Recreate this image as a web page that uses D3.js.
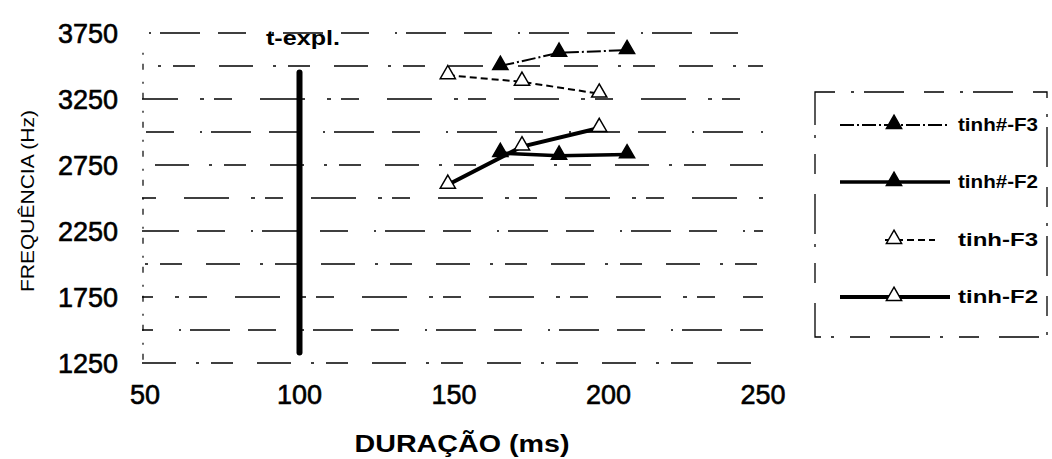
<!DOCTYPE html>
<html>
<head>
<meta charset="utf-8">
<script src="https://cdn.jsdelivr.net/npm/d3@7"></script>
<style>
  html, body { margin: 0; padding: 0; background: #fff; }
  svg { display: block; font-family: "Liberation Sans", Arial, sans-serif; }
</style>
</head>
<body>
<svg id="chart" width="1052" height="459"></svg>
<script>
// Axis ticks
const xTicks = [50, 100, 150, 200, 250];
const yTicks = [1250, 1750, 2250, 2750, 3250, 3750];
const yGrid = [1250, 1500, 1750, 2000, 2250, 2500, 2750, 3000, 3250, 3500, 3750];

// Series: duration (ms) and formant frequency (Hz)
const seriesNames = ["tinh#-F3", "tinh#-F2", "tinh-F3", "tinh-F2"];
const tinhSharpF3Dur = [165, 184, 206];
const tinhSharpF3Hz  = [3500, 3600, 3620];
const tinhSharpF2Dur = [165, 184, 206];
const tinhSharpF2Hz  = [2840, 2820, 2830];
const tinhF3Dur = [148, 172, 197];
const tinhF3Hz  = [3430, 3380, 3290];
const tinhF2Dur = [148, 172, 197];
const tinhF2Hz  = [2600, 2890, 3030];

// Reference line t-expl.
const texplDur = [100, 100];
const texplHz  = [1330, 3450];

const svg = d3.select("#chart");
const x = d3.scaleLinear().domain([50, 250]).range([145, 763]);
const y = d3.scaleLinear().domain([1250, 3750]).range([363, 33]);

const ink = "#000";

// Broken horizontal grid lines
svg.append("g").selectAll("line").data(yGrid).join("line")
  .attr("x1", x(50) - 3).attr("x2", x(250))
  .attr("y1", d => y(d)).attr("y2", d => y(d))
  .attr("stroke", ink).attr("stroke-width", 1.3)
  .attr("stroke-dasharray", (d, i) => ["34,20,3,12,22,24", "28,26,2,9,40,18", "45,22,4,10,18,28"][i % 3])
  .attr("stroke-dashoffset", (d, i) => i * 17);

// Left axis line (faint, broken)
svg.append("line")
  .attr("x1", x(50) - 2).attr("x2", x(50) - 2)
  .attr("y1", y(3600)).attr("y2", y(1250))
  .attr("stroke", ink).attr("stroke-width", 1.2)
  .attr("stroke-dasharray", "2,9,6,12");

// Tick labels
svg.append("g").selectAll("text").data(yTicks).join("text")
  .attr("x", 118).attr("y", d => y(d))
  .attr("dy", "0.36em").attr("text-anchor", "end")
  .attr("font-size", 27).attr("fill", ink)
  .attr("stroke", ink).attr("stroke-width", 0.6)
  .text(d => d);

svg.append("g").selectAll("text").data(xTicks).join("text")
  .attr("x", d => x(d)).attr("y", 394)
  .attr("dy", "0.36em").attr("text-anchor", "middle")
  .attr("font-size", 27).attr("fill", ink)
  .attr("stroke", ink).attr("stroke-width", 0.6)
  .text(d => d);

// Axis titles
svg.append("text")
  .attr("x", 462).attr("y", 452)
  .attr("text-anchor", "middle")
  .attr("font-size", 23).attr("font-weight", "bold").attr("fill", ink)
  .attr("textLength", 215).attr("lengthAdjust", "spacingAndGlyphs")
  .text("DURAÇÃO (ms)");

svg.append("text")
  .attr("transform", "translate(34,201) rotate(-90)")
  .attr("text-anchor", "middle")
  .attr("font-size", 19).attr("fill", ink)
  .attr("textLength", 182).attr("lengthAdjust", "spacingAndGlyphs")
  .text("FREQUÊNCIA (Hz)");

// t-expl. vertical line
const line = d3.line().x(d => x(d[0])).y(d => y(d[1]));
svg.append("path")
  .attr("d", line(d3.zip(texplDur, texplHz)))
  .attr("stroke", ink).attr("stroke-width", 6).attr("fill", "none")
  .attr("stroke-linecap", "round");
svg.append("text")
  .attr("x", 303).attr("y", 45)
  .attr("text-anchor", "middle")
  .attr("font-size", 21).attr("font-weight", "bold").attr("fill", ink)
  .attr("textLength", 74).attr("lengthAdjust", "spacingAndGlyphs")
  .text("t-expl.");

// Series definitions
const series = [
  { name: seriesNames[0], dur: tinhSharpF3Dur, hz: tinhSharpF3Hz, width: 2, dash: "14,3,2,3", filled: true },
  { name: seriesNames[1], dur: tinhSharpF2Dur, hz: tinhSharpF2Hz, width: 3.5, dash: null, filled: true },
  { name: seriesNames[2], dur: tinhF3Dur, hz: tinhF3Hz, width: 2, dash: "7,4", filled: false },
  { name: seriesNames[3], dur: tinhF2Dur, hz: tinhF2Hz, width: 4, dash: null, filled: false }
];

const tri = d3.symbol().type(d3.symbolTriangle).size(100);

series.forEach(s => {
  const pts = d3.zip(s.dur, s.hz);
  svg.append("path")
    .attr("d", line(pts))
    .attr("fill", "none").attr("stroke", ink)
    .attr("stroke-width", s.width)
    .attr("stroke-dasharray", s.dash);
  svg.append("g").selectAll("path").data(pts).join("path")
    .attr("d", tri)
    .attr("transform", d => `translate(${x(d[0])},${y(d[1]) - 1})`)
    .attr("fill", s.filled ? ink : "#fff")
    .attr("stroke", ink).attr("stroke-width", 1.5);
});

// Legend
const lg = svg.append("g");
lg.append("rect")
  .attr("x", 815).attr("y", 92).attr("width", 232).attr("height", 245)
  .attr("fill", "none").attr("stroke", ink).attr("stroke-width", 1.3)
  .attr("stroke-dasharray", "20,16,3,10,40,20");

const legendY = [125, 182, 240, 297];
series.forEach((s, i) => {
  const ly = legendY[i];
  lg.append("line")
    .attr("x1", i === 2 ? 885 : 840).attr("x2", i === 2 ? 935 : 950)
    .attr("y1", ly).attr("y2", ly)
    .attr("stroke", ink).attr("stroke-width", s.width)
    .attr("stroke-dasharray", s.dash);
  lg.append("path")
    .attr("d", tri)
    .attr("transform", `translate(894,${ly - 1})`)
    .attr("fill", s.filled ? ink : "#fff")
    .attr("stroke", ink).attr("stroke-width", 1.5);
  lg.append("text")
    .attr("x", 958).attr("y", ly).attr("dy", "0.36em")
    .attr("font-size", 18).attr("font-weight", "bold").attr("fill", ink)
    .attr("textLength", 80).attr("lengthAdjust", "spacingAndGlyphs")
    .text(s.name);
});
</script>
</body>
</html>
